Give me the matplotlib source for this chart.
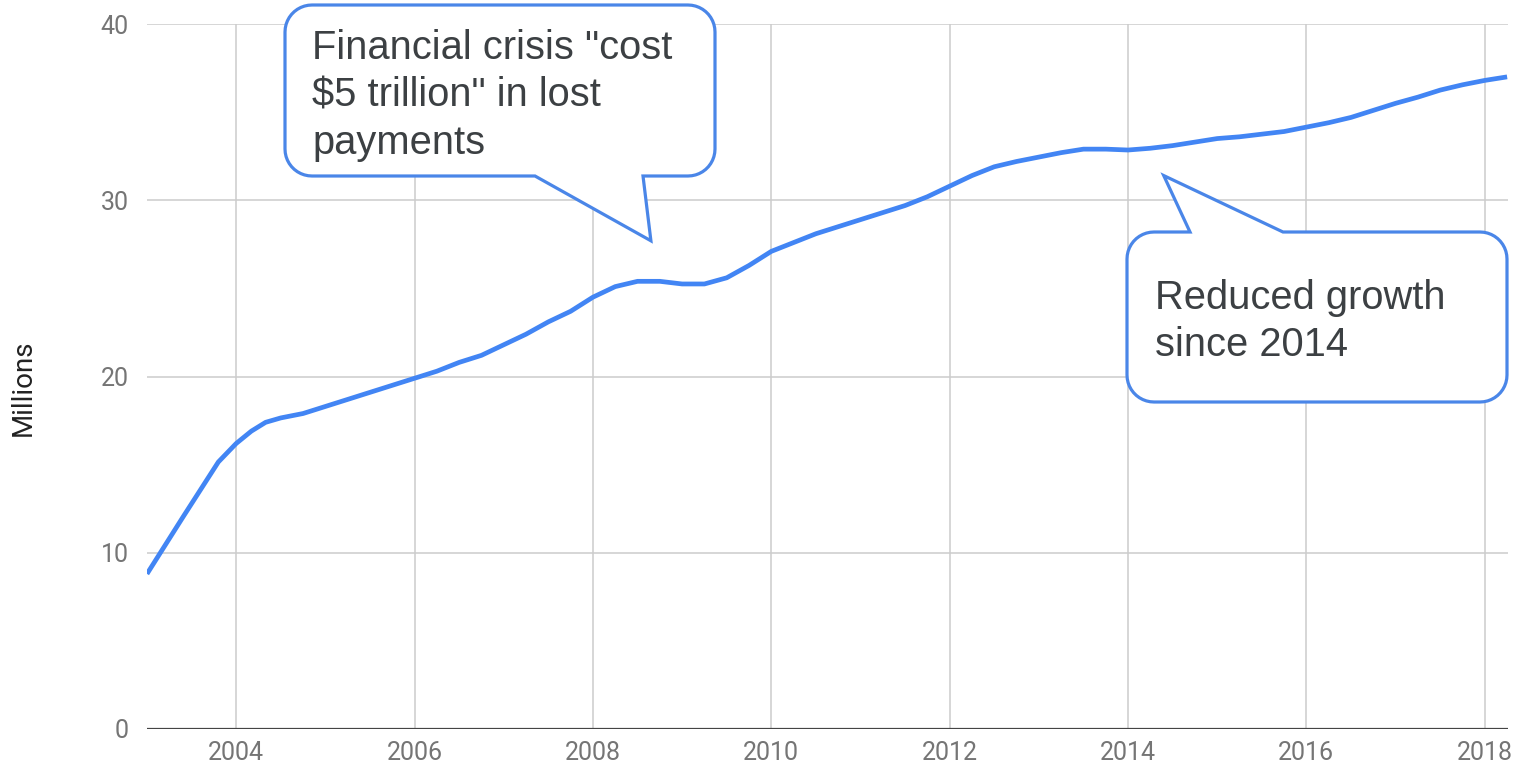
import numpy as np
import matplotlib
matplotlib.use("Agg")
import matplotlib.pyplot as plt
from matplotlib.path import Path
from matplotlib.patches import PathPatch

# Quarterly series, millions
years = [2003.0, 2003.4, 2003.8, 2004.0, 2004.17, 2004.33, 2004.5, 2004.75,
         2005.0, 2005.25, 2005.5, 2005.75, 2006.0, 2006.25, 2006.5, 2006.75,
         2007.0, 2007.25, 2007.5, 2007.75, 2008.0, 2008.25, 2008.5, 2008.75,
         2009.0, 2009.25, 2009.5, 2009.75, 2010.0, 2010.25, 2010.5, 2010.75,
         2011.0, 2011.25, 2011.5, 2011.75, 2012.0, 2012.25, 2012.5, 2012.75,
         2013.0, 2013.25, 2013.5, 2013.75, 2014.0, 2014.25, 2014.5, 2014.75,
         2015.0, 2015.25, 2015.5, 2015.75, 2016.0, 2016.25, 2016.5, 2016.75,
         2017.0, 2017.25, 2017.5, 2017.75, 2018.0, 2018.25]
values = [8.8, 12.0, 15.15, 16.2, 16.9, 17.4, 17.65, 17.9,
          18.3, 18.7, 19.1, 19.5, 19.9, 20.3, 20.8, 21.2,
          21.8, 22.4, 23.1, 23.7, 24.5, 25.1, 25.4, 25.4,
          25.25, 25.25, 25.6, 26.3, 27.1, 27.6, 28.1, 28.5,
          28.9, 29.3, 29.7, 30.2, 30.8, 31.4, 31.9, 32.2,
          32.45, 32.7, 32.9, 32.9, 32.85, 32.95, 33.1, 33.3,
          33.5, 33.6, 33.75, 33.9, 34.15, 34.4, 34.7, 35.1,
          35.5, 35.85, 36.25, 36.55, 36.8, 37.0]

x_ticks = [2004, 2006, 2008, 2010, 2012, 2014, 2016, 2018]
y_ticks = [0, 10, 20, 30, 40]

note_crisis = 'Financial crisis "cost\n$5 trillion" in lost\npayments'
note_slowdown = 'Reduced growth\nsince 2014'
# points the callouts refer to (year, millions)
crisis_point = (2008.65, 27.7)
slowdown_point = (2014.4, 31.4)

W, H = 1525, 767
BLUE = '#4a86e8'
LINE_BLUE = '#4285f4'

fig = plt.figure(figsize=(W / 100, H / 100), dpi=100)
ax = fig.add_axes([147 / W, 1 - 729 / H, (1508 - 147) / W, (729 - 24) / H])

ax.plot(years, values, color=LINE_BLUE, lw=3.4, solid_capstyle='butt',
        solid_joinstyle='round', zorder=3)

ax.set_xlim(2003.0, 2018.26)
ax.set_ylim(0, 40)
ax.set_xticks(x_ticks)
ax.set_yticks(y_ticks)
ax.set_xticklabels([str(t) for t in x_ticks])
ax.set_yticklabels([str(t) for t in y_ticks])
ax.grid(True, color='#cccccc', lw=1.1)
ax.set_axisbelow(True)
for s in ax.spines.values():
    s.set_visible(False)
ax.axhline(0, color='#444444', lw=1.6, zorder=2)
ax.tick_params(length=0, labelsize=18, labelcolor='#757575')
ax.tick_params(axis='y', pad=13)
ax.tick_params(axis='x', pad=9)
for lab in ax.get_xticklabels() + ax.get_yticklabels():
    lab.set_fontfamily('Roboto')

fig.text(23 / W, 1 - 388 / H, 'Millions', rotation=90, ha='center', va='center',
         fontsize=20, color='#222222', family='Roboto')


def to_pixels(pt):
    """Data point -> pixel coordinates measured from the top-left corner."""
    dx, dy = ax.transData.transform(pt)
    return dx, H - dy


def arc(cx, cy, r, a0, a1, n=12):
    t = np.radians(np.linspace(a0, a1, n))
    return list(zip(cx + r * np.cos(t), cy + r * np.sin(t)))


def bubble(x0, y0, x1, y1, r, tip, base, side):
    """Rounded box with a pointer; pixel coords, y downward."""
    pts = []
    pts += [(x0 + r, y0)]
    if side == 'top':
        pts += [(base[0], y0), tip, (base[1], y0)]
    pts += [(x1 - r, y0)]
    pts += arc(x1 - r, y0 + r, r, -90, 0)
    pts += arc(x1 - r, y1 - r, r, 0, 90)
    if side == 'bottom':
        pts += [(base[1], y1), tip, (base[0], y1)]
    pts += arc(x0 + r, y1 - r, r, 90, 180)
    pts += arc(x0 + r, y0 + r, r, 180, 270)
    pts.append(pts[0])
    verts = [(px / W, 1 - py / H) for px, py in pts]
    codes = [Path.MOVETO] + [Path.LINETO] * (len(verts) - 2) + [Path.CLOSEPOLY]
    patch = PathPatch(Path(verts, codes), transform=fig.transFigure,
                      facecolor='white', edgecolor=BLUE, lw=2.3,
                      joinstyle='miter', zorder=10)
    fig.add_artist(patch)


bubble(285, 5, 715, 176, 27, to_pixels(crisis_point), (535, 643), 'bottom')
bubble(1127, 232, 1507, 402, 27, to_pixels(slowdown_point), (1190, 1283), 'top')

# baseline of the last line of each note
fig.text(312 / W, 1 - 154 / H, note_crisis, ha='left', va='baseline',
         fontsize=28.7, color='#3c4043', family='Liberation Sans',
         linespacing=1.31, zorder=11)
fig.text(1155 / W, 1 - 356 / H, note_slowdown, ha='left', va='baseline',
         fontsize=28.7, color='#3c4043', family='Liberation Sans',
         linespacing=1.31, zorder=11)

fig.savefig('out.png', dpi=100, facecolor='white')
